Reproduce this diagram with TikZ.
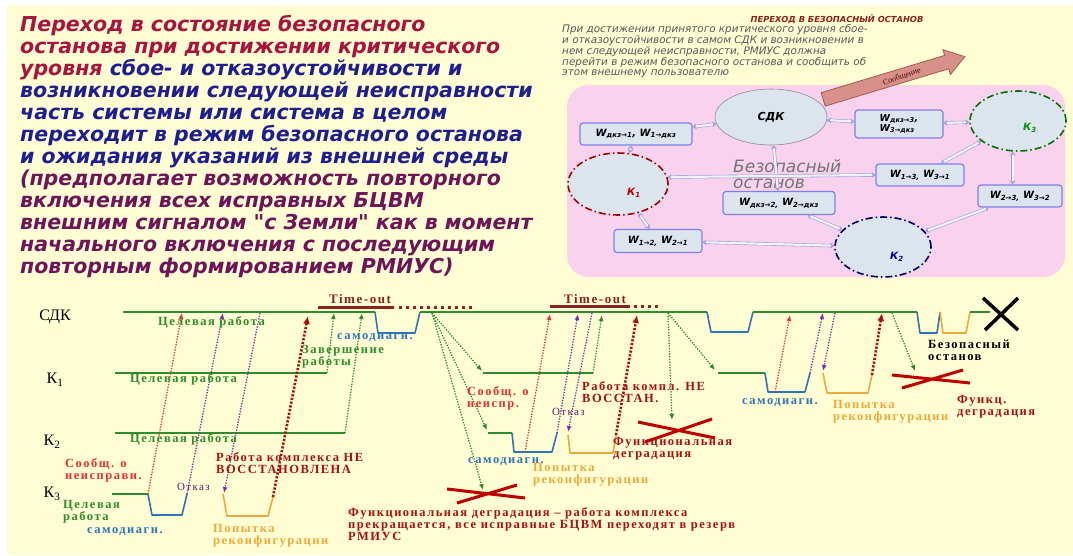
\documentclass[tikz,border=0pt]{standalone}
\usepackage{fontspec}
\setmainfont{Liberation Serif}
\newfontfamily\vfont{DejaVu Sans}
\newfontfamily\tfont[LetterSpace=12]{Liberation Serif}
\usetikzlibrary{arrows.meta,shapes.geometric}

\definecolor{bgyel}{HTML}{FFFDD3}
\definecolor{pinkbg}{HTML}{F9D3EE}
\definecolor{crim}{HTML}{A8143E}
\definecolor{navyt}{HTML}{1E1E90}
\definecolor{plum}{HTML}{6E1458}
\definecolor{nodefill}{HTML}{DCE4EE}
\definecolor{boxline}{HTML}{7F7FE6}
\definecolor{linkc}{HTML}{A0A0DC}
\definecolor{lgreen}{HTML}{2E8B2E}
\definecolor{dblue}{HTML}{2E75B6}
\definecolor{dorange}{HTML}{EDA93A}
\definecolor{sred}{HTML}{E53030}
\definecolor{dred}{HTML}{A81010}
\definecolor{purp}{HTML}{7A2FA8}
\definecolor{msgfill}{HTML}{D8918A}
\definecolor{msgline}{HTML}{A85850}
\definecolor{toc}{HTML}{8B2222}

\begin{document}
\begin{tikzpicture}[x=1pt,y=-1pt,
	ttl/.style={font=\vfont\bfseries\itshape\fontsize{20.5}{22}\selectfont, anchor=base west, inner sep=0pt},
	wbox/.style={draw=boxline, line width=1.2pt, fill=nodefill, rounded corners=3pt, inner sep=2pt,
		font=\vfont\bfseries\itshape\fontsize{10}{11}\selectfont, align=left},
	kell/.style={ellipse, fill=nodefill, line width=1.6pt, dash pattern=on 7pt off 3pt on 1.5pt off 3pt},
	lnk/.style={draw=linkc, line width=0.6pt, double=white!85!linkc, double distance=2.2pt,
		{Stealth[length=4pt,width=6pt]}-{Stealth[length=4pt,width=6pt]}},
	lvl/.style={line width=1.6pt, lgreen},
	trough/.style={line width=1.6pt, line join=round},
	sig/.style={line width=1.3pt, dash pattern=on 1.3pt off 1.4pt, -{Latex[length=6pt,width=5pt]}},
	fat/.style={line width=2.6pt, dash pattern=on 2.2pt off 1.6pt, -{Latex[length=8pt,width=7pt]}},
	cross/.style={line width=3pt, red!75!black},
	lbl/.style={font=\tfont\bfseries\fontsize{12.5}{12}\selectfont, anchor=west, inner sep=0pt, align=left},
	row/.style={font=\fontsize{16}{16}\selectfont, inner sep=0pt}]
	\useasboundingbox (0,0) rectangle (1073,555);
	\fill[white] (0,0) rectangle (1073,555);
	\fill[bgyel] (7,5) rectangle (1073,555);

	%%% left text
	\node[ttl, crim] (t1) at (20,31) {Переход в состояние безопасного};
	\node[ttl, crim] (t2) at (20,53) {останова при достижении критического};
	\node[ttl, navyt] (t3) at (20,75) {\color{crim}уровня \color{navyt}сбое- и отказоустойчивости и};
	\node[ttl, navyt] (t4) at (20,97) {возникновении следующей неисправности};
	\node[ttl, navyt] (t5) at (20,119) {часть системы или система в целом};
	\node[ttl, navyt] (t6) at (20,141) {переходит в режим безопасного останова};
	\node[ttl, navyt] (t7) at (20,163) {и ожидания указаний из внешней среды};
	\node[ttl, plum] (t8) at (20,185) {(предполагает возможность повторного};
	\node[ttl, plum] (t9) at (20,207) {включения всех исправных БЦВМ};
	\node[ttl, plum] (t10) at (20,229) {внешним сигналом "с Земли" как в момент};
	\node[ttl, plum] (t11) at (20,251) {начального включения с последующим};
	\node[ttl, plum] (t12) at (20,273) {повторным формированием РМИУС)};

	%%% right panel
	\node[font=\vfont\bfseries\itshape\fontsize{8.3}{9}\selectfont, text=toc] (ptitle) at (837,19) {ПЕРЕХОД В БЕЗОПАСНЫЙ ОСТАНОВ};
	\node[font=\vfont\itshape\fontsize{10.4}{9.9}\selectfont, text=black!65, anchor=north west, align=left, inner sep=0pt] (ptext) at (562,24)
		{При достижении принятого критического уровня сбое-\\и отказоустойчивости в самом СДК и возникновении в\\нем следующей неисправности, РМИУС должна\\перейти в режим безопасного останова и сообщить об\\этом внешнему пользователю};
	\fill[pinkbg, rounded corners=22pt] (567,85) rectangle (1065,277);

	\begin{scope}[shift={(894,78)}, rotate=16.8]
		\draw[fill=msgfill, draw=msgline, line width=0.8pt] (-74,-7) -- (55,-7) -- (55,-13) -- (74,0) -- (55,13) -- (55,7) -- (-74,7) -- cycle;
		\node[transform shape, rotate=3, font=\fontsize{8}{8}\selectfont, text=black!70!red, inner sep=0pt] (msgtxt) at (8,1) {Сообщение};
	\end{scope}

	\node[ellipse, draw=black!45, line width=0.6pt, fill=nodefill, minimum width=112pt, minimum height=56pt,
		font=\vfont\bfseries\itshape\fontsize{11}{11}\selectfont] (sdk) at (771,117) {СДК};
	\node[wbox, minimum width=112pt, minimum height=22pt] (wk1) at (636,134) {W\textsubscript{дкз→1}, W\textsubscript{1→дкз}};
	\node[wbox, minimum width=88pt, minimum height=28pt, inner sep=1pt, font=\vfont\bfseries\itshape\fontsize{9.5}{10}\selectfont] (wk3) at (899,124) {W\textsubscript{дкз→3},\\W\textsubscript{3→дкз}};
	\node[kell, draw=green!45!black, minimum width=96pt, minimum height=60pt] (k3) at (1018,121) {};
	\node[kell, draw=red!65!black, minimum width=100pt, minimum height=62pt] (k1) at (618,184) {};
	\node[kell, draw=blue!40!black, minimum width=96pt, minimum height=60pt] (k2) at (883,247) {};
	\node[font=\vfont\bfseries\itshape\fontsize{10}{10}\selectfont, text=green!60!black] (k3l) at (1030,128) {К\textsubscript{3}};
	\node[font=\vfont\bfseries\itshape\fontsize{10}{10}\selectfont, text=red!75!black] (k1l) at (634,193) {К\textsubscript{1}};
	\node[font=\vfont\bfseries\itshape\fontsize{10}{10}\selectfont, text=blue!55!black] (k2l) at (897,257) {К\textsubscript{2}};
	\node[wbox, minimum width=88pt, minimum height=22pt] (w13) at (920,175) {W\textsubscript{1→3,} W\textsubscript{3→1}};
	\node[wbox, minimum width=84pt, minimum height=22pt] (w23) at (1020,196) {W\textsubscript{2→3,} W\textsubscript{3→2}};
	\node[wbox, minimum width=112pt, minimum height=23pt] (wk2) at (779,203) {W\textsubscript{дкз→2,} W\textsubscript{2→дкз}};
	\node[wbox, minimum width=88pt, minimum height=23pt] (w12) at (658,241) {W\textsubscript{1→2,} W\textsubscript{2→1}};
	\node[font=\vfont\itshape\fontsize{17}{16}\selectfont, text=black!55, align=left, anchor=north west, inner sep=0pt] (safe) at (733,159) {Безопасный\\останов};

	\draw[lnk] (sdk) -- (wk1);
	\draw[lnk] (wk1) -- (k1);
	\draw[lnk] (sdk) -- (wk3);
	\draw[lnk] (wk3) -- (k3);
	\draw[lnk] (sdk) -- (wk2);
	\draw[lnk] (k1.8) -- (w13.west);
	\draw[lnk] (w13) -- (k3);
	\draw[lnk] (k3.260) -- (k3.260 |- w23.north);
	\draw[lnk] (w23) -- (k2);
	\draw[lnk] (wk2) -- (k2);
	\draw[lnk] (k1) -- (w12);
	\draw[lnk] (w12) -- (k2);

	%%% timing diagram
	\node[row] (rsdk) at (55,317) {СДК};
	\node[row] (rk1) at (55,380) {К\textsubscript{1}};
	\node[row] (rk2) at (52,442) {К\textsubscript{2}};
	\node[row] (rk3) at (52,494) {К\textsubscript{3}};

	% levels
	\draw[lvl] (123,312) -- (375,312);
	\draw[trough, dblue] (375,312) -- (378,333) -- (415,333) -- (420,312);
	\draw[lvl] (420,312) -- (707,312);
	\draw[trough, dblue] (707,312) -- (711,332) -- (748,332) -- (753,312);
	\draw[lvl] (753,312) -- (917,312);
	\draw[trough, dblue] (917,312) -- (920,333) -- (937,333) -- (940,312);
	\draw[trough, dorange] (940,312) -- (943,333) -- (966,333) -- (970,312);
	\draw[lvl] (970,312) -- (990,312);
	\draw[line width=3.5pt] (983,298) -- (1018,330) (1018,298) -- (985,330);

	\draw[lvl] (115,373) -- (327,373);
	\draw[lvl] (483,373) -- (593,373);
	\draw[lvl] (718,373) -- (765,373);
	\draw[trough, dblue] (765,373) -- (768,392) -- (805,392) -- (810,373);
	\draw[trough, dorange] (823,373) -- (827,393) -- (868,393) -- (872,375);

	\draw[lvl] (115,433) -- (345,433);
	\draw[lvl] (488,433) -- (512,433);
	\draw[trough, dblue] (512,433) -- (514,452) -- (552,452) -- (557,433);
	\draw[trough, dorange] (568,435) -- (570,453) -- (613,453) -- (616,435);

	\draw[lvl] (112,494) -- (148,494);
	\draw[trough, dblue] (148,494) -- (152,515) -- (182,515) -- (187,494);
	\draw[trough, dorange] (223,494) -- (227,516) -- (268,516) -- (273,497);

	% time-out
	\node[font=\tfont\bfseries\fontsize{13}{13}\selectfont, text=toc, inner sep=0pt] (to1) at (360,299) {Time-out};
	\draw[line width=3pt, toc] (318,307) -- (394,307);
	\draw[line width=3pt, toc, dash pattern=on 3pt off 4pt] (399,307) -- (473,307);
	\node[font=\tfont\bfseries\fontsize{13}{13}\selectfont, text=toc, inner sep=0pt] (to2) at (595,299) {Time-out};
	\draw[line width=3pt, toc] (550,306) -- (630,306);
	\draw[line width=3pt, toc, dash pattern=on 3pt off 4pt] (634,306) -- (662,306);

	% arrow ends
	\foreach \n/\x/\y in {a1s/148/494, a1e/182/313, a2s/187/494, a2e/223/313, a3s/260/313, a3e/224/493,
		a4s/273/497, a4e/308/316, a5s/327/373, a5e/334/313, a6s/345/433, a6e/362/313,
		b0/432/313, b1e/482/371, b2e/487/430, b3e/483/490, b4s/525/452, b4e/550/314,
		b5s/557/433, b5e/578/314, b6s/592/313, b6e/568/432, b7s/616/435, b7e/637/315,
		b8s/593/373, b8e/602/315, b9s/668/313, b9e/672/420,
		c1e/715/370, c2s/775/392, c2e/790/315, c3s/810/373, c3e/823/313,
		c4s/835/313, c4e/823/371, c5s/872/375, c5e/882/313, c6s/892/313, c6e/915/371}
		\coordinate (\n) at (\x,\y);

	\draw[sig, sred] (a1s) -- (a1e);
	\draw[sig, purp] (a2s) -- (a2e);
	\draw[sig, purp] (a3s) -- (a3e);
	\draw[fat, dred] (a4s) -- (a4e);
	\draw[sig, lgreen] (a5s) -- (a5e);
	\draw[sig, lgreen] (a6s) -- (a6e);

	\draw[sig, lgreen] (b0) -- (b1e);
	\draw[sig, lgreen] (b0) -- (b2e);
	\draw[sig, lgreen] (b0) -- (b3e);
	\draw[sig, sred] (b4s) -- (b4e);
	\draw[sig, purp] (b5s) -- (b5e);
	\draw[sig, purp] (b6s) -- (b6e);
	\draw[fat, dred] (b7s) -- (b7e);
	\draw[sig, lgreen] (b8s) -- (b8e);
	\draw[sig, lgreen] (b9s) -- (b9e);

	\draw[sig, lgreen] (b9s) -- (c1e);
	\draw[sig, sred] (c2s) -- (c2e);
	\draw[sig, purp] (c3s) -- (c3e);
	\draw[sig, purp] (c4s) -- (c4e);
	\draw[fat, dred] (c5s) -- (c5e);
	\draw[sig, lgreen] (c6s) -- (c6e);

	% crosses
	\draw[cross] (447,489) -- (525,498) (457,503) -- (517,485);
	\draw[cross] (638,422) -- (715,438) (645,442) -- (712,419);
	\draw[cross] (892,375) -- (970,383) (902,388) -- (963,370);

	% labels
	\node[lbl, lgreen] (g1) at (158,322) {Целевая работа};
	\node[lbl, lgreen] (g2) at (130,379) {Целевая работа};
	\node[lbl, lgreen] (g3) at (130,439) {Целевая работа};
	\node[lbl, lgreen] (g4) at (63,512) {Целевая\\работа};
	\node[lbl, dblue] (s1) at (87,532) {самодиагн.};
	\node[lbl, dorange] (p1) at (213,536) {Попытка\\реконфигурации};
	\node[lbl, sred] (m1) at (65,470) {Сообщ. о\\неисправн.};
	\node[lbl, purp!70!black, font=\tfont\fontsize{11}{11}\selectfont] (f1) at (177,487) {Отказ};
	\node[lbl, dred] (n1) at (216,463) {Работа комплекса НЕ\\ВОССТАНОВЛЕНА};
	\node[lbl, dblue] (s2) at (337,338) {самодиагн.};
	\node[lbl, lgreen] (z1) at (302,357) {Завершение\\работы};

	\node[lbl, sred] (m2) at (467,398) {Сообщ. о\\неиспр.};
	\node[lbl, dred] (n2) at (582,392) {Работа компл. НЕ\\ВОССТАН.};
	\node[lbl, purp!70!black, font=\tfont\fontsize{11}{11}\selectfont] (f2) at (552,412) {Отказ};
	\node[lbl, dblue] (s3) at (468,462) {самодиагн.};
	\node[lbl, dorange] (p2) at (533,475) {Попытка\\реконфигурации};
	\node[lbl, dred] (d1) at (613,449) {Функциональная\\деградация};
	\node[lbl, dred] (d2) at (348,524) {Функциональная деградация – работа комплекса\\прекращается, все исправные БЦВМ переходят в резерв\\РМИУС};

	\node[lbl, dblue] (s4) at (742,403) {самодиагн.};
	\node[lbl, dorange] (p3) at (833,412) {Попытка\\реконфигурации};
	\node[lbl, dred] (d3) at (957,407) {Функц.\\деградация};
	\node[lbl, black] (bs) at (928,350) {Безопасный\\останов};
\end{tikzpicture}
\end{document}
